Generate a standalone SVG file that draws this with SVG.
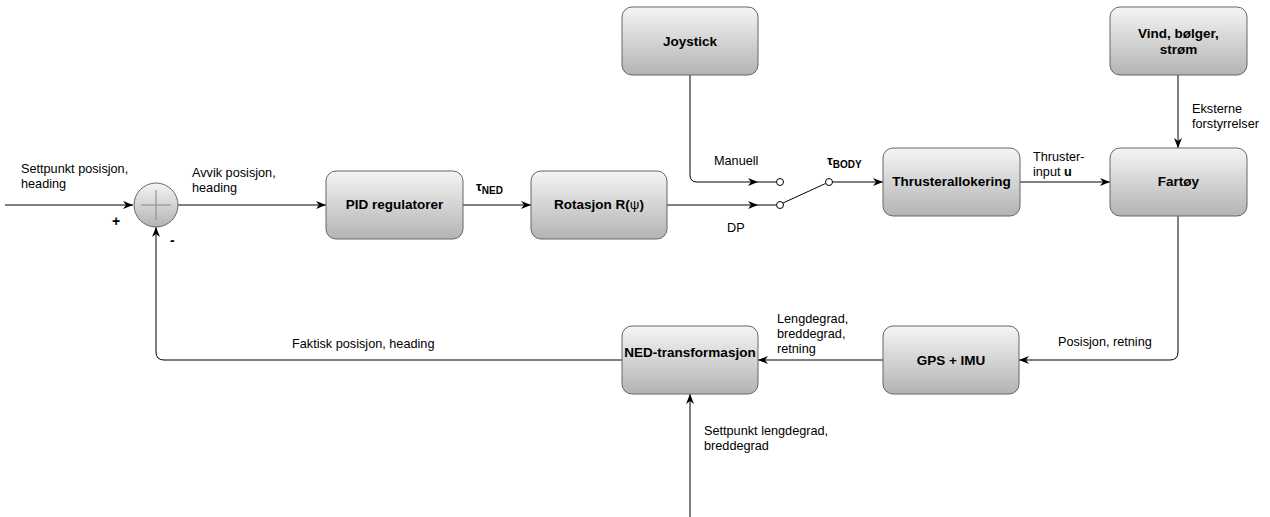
<svg xmlns="http://www.w3.org/2000/svg" width="1270" height="517" viewBox="0 0 1270 517">
<defs>
<linearGradient id="g" x1="0" y1="0" x2="0" y2="1">
<stop offset="0" stop-color="#f5f5f5"/>
<stop offset="1" stop-color="#b3b3b3"/>
</linearGradient>
<marker id="a" markerUnits="userSpaceOnUse" markerWidth="11" markerHeight="10" refX="10" refY="5" orient="auto">
<path d="M0,1 L10,5 L0,9 L3,5 z" fill="#000"/>
</marker>
<style>
.box{fill:url(#g);stroke:#666666;stroke-width:1}
.bt{font-family:"Liberation Sans",Arial,sans-serif;font-size:13.5px;font-weight:bold;fill:#000;text-anchor:middle}
.lb{font-family:"Liberation Sans",Arial,sans-serif;font-size:12.7px;fill:#000}
.ln{fill:none;stroke:#000;stroke-width:1}
.ar{marker-end:url(#a)}
.ct{fill:#fff;stroke:#000;stroke-width:1}
</style>
</defs>
<rect width="1270" height="517" fill="#fff"/>
<g id="connectors">
<path class="ln ar" d="M5,205 H133"/>
<path class="ln ar" d="M178,205 H326"/>
<path class="ln ar" d="M463,205 H531"/>
<path class="ln ar" d="M667,205 H758"/>
<path class="ln" d="M758,205 H776"/>
<path class="ln ar" d="M690,75 V175 Q690,182 697,182 H758"/>
<path class="ln" d="M758,182 H776"/>
<path class="ln" d="M783,203 L825.5,183.5"/>
<path class="ln ar" d="M832.5,182 H883"/>
<path class="ln ar" d="M1020,182 H1110"/>
<path class="ln ar" d="M1178,75 V148"/>
<path class="ln ar" d="M1178,216 V352 Q1178,360 1170,360 H1019"/>
<path class="ln ar" d="M883,360 H758"/>
<path class="ln ar" d="M622,360 H164 Q156,360 156,352 V227"/>
<path class="ln ar" d="M690,517 V394"/>
<circle class="ct" cx="780" cy="182" r="3.5"/>
<circle class="ct" cx="780" cy="205" r="3.5"/>
<circle class="ct" cx="829" cy="182" r="3.5"/>
</g>
<g id="sum">
<circle cx="156" cy="205" r="22" fill="url(#g)" stroke="#666666"/>
<path d="M141,205 H171 M156,190 V220" stroke="#888" stroke-width="1" fill="none"/>
</g>
<g id="joystick"><rect class="box" x="622" y="7" width="136" height="68" rx="10"/><text class="bt" x="690" y="46">Joystick</text></g>
<g id="vind"><rect class="box" x="1110" y="7" width="137" height="68" rx="10"/><text class="bt" x="1178.5" y="38">Vind, bølger,</text><text class="bt" x="1178.5" y="54">strøm</text></g>
<g id="pid"><rect class="box" x="326" y="171" width="137" height="68" rx="10"/><text class="bt" x="394.5" y="209">PID regulatorer</text></g>
<g id="rotasjon"><rect class="box" x="531" y="171" width="136" height="68" rx="10"/><text class="bt" x="599" y="209">Rotasjon R(<tspan style="font-weight:normal">ψ</tspan>)</text></g>
<g id="thrusterallokering"><rect class="box" x="883" y="148" width="137" height="68" rx="10"/><text class="bt" x="951.5" y="186">Thrusterallokering</text></g>
<g id="fartoy"><rect class="box" x="1110" y="148" width="137" height="68" rx="10"/><text class="bt" x="1178.5" y="186">Fartøy</text></g>
<g id="ned"><rect class="box" x="622" y="326" width="136" height="68" rx="10"/><text class="bt" x="690" y="357">NED-transformasjon</text></g>
<g id="gps"><rect class="box" x="883" y="326" width="136" height="68" rx="10"/><text class="bt" x="951" y="365">GPS + IMU</text></g>
<g id="labels">
<text class="lb" x="21" y="173">Settpunkt posisjon,</text>
<text class="lb" x="21" y="188">heading</text>
<text class="lb" x="192" y="177">Avvik posisjon,</text>
<text class="lb" x="192" y="192">heading</text>
<text class="lb" x="112" y="226" style="font-weight:bold;font-size:14px">+</text>
<text class="lb" x="170" y="245" style="font-weight:bold;font-size:14px">-</text>
<text class="lb" x="476" y="191" style="font-weight:bold;font-size:13px">τ<tspan dy="3" style="font-size:10px">NED</tspan></text>
<text class="lb" x="714" y="165">Manuell</text>
<text class="lb" x="727" y="232">DP</text>
<text class="lb" x="827" y="165" style="font-weight:bold;font-size:13px">τ<tspan dy="3" style="font-size:10px">BODY</tspan></text>
<text class="lb" x="1033" y="161">Thruster-</text>
<text class="lb" x="1033" y="176">input <tspan style="font-weight:bold">u</tspan></text>
<text class="lb" x="1192" y="113">Eksterne</text>
<text class="lb" x="1192" y="128">forstyrrelser</text>
<text class="lb" x="1058" y="346">Posisjon, retning</text>
<text class="lb" x="777" y="323">Lengdegrad,</text>
<text class="lb" x="777" y="338">breddegrad,</text>
<text class="lb" x="777" y="353">retning</text>
<text class="lb" x="292" y="348">Faktisk posisjon, heading</text>
<text class="lb" x="704" y="435">Settpunkt lengdegrad,</text>
<text class="lb" x="704" y="450">breddegrad</text>
</g>
</svg>
